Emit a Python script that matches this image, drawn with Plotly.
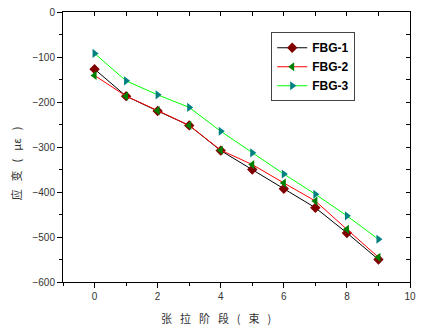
import plotly.graph_objects as go

stages = [0, 1, 2, 3, 4, 5, 6, 7, 8, 9]
fbg1 = [-127, -187, -220, -252, -308, -350, -393, -435, -491, -550]
fbg2 = [-141, -187, -219, -252, -307, -339, -380, -420, -483, -545]
fbg3 = [-92, -153, -184, -212, -265, -313, -360, -405, -453, -505]

series = [
    ("FBG-1", fbg1, "black", "#800000", "diamond", 8),
    ("FBG-2", fbg2, "#ff0000", "#008000", "triangle-left", 8),
    ("FBG-3", fbg3, "#00ff00", "#008080", "triangle-right", 8),
]

fig = go.Figure()
for name, vals, lc, mc, sym, ms in series:
    fig.add_trace(go.Scatter(
        x=stages, y=vals, name=name, mode="lines+markers",
        line=dict(color=lc, width=1),
        marker=dict(color=mc, symbol=sym, size=ms, line=dict(width=0)),
    ))

# carrier traces for the mirrored (top/right) tick axes
fig.add_trace(go.Scatter(
    x=stages, y=fbg1, xaxis="x2", yaxis="y", mode="lines",
    line=dict(color="rgba(0,0,0,0)"), showlegend=False, hoverinfo="skip",
))
fig.add_trace(go.Scatter(
    x=stages, y=fbg1, xaxis="x", yaxis="y2", mode="lines",
    line=dict(color="rgba(0,0,0,0)"), showlegend=False, hoverinfo="skip",
))

font_main = "Liberation Sans, Arial, sans-serif"
cjk = "Noto Sans CJK SC"

fig.update_layout(
    width=422, height=328,
    margin=dict(l=63, r=6, t=11, b=46),
    paper_bgcolor="white", plot_bgcolor="white",
    font=dict(family=font_main, size=10, color="#333333"),
    showlegend=True,
    legend=dict(
        x=0.60, y=0.925, xanchor="left", yanchor="top",
        bgcolor="white", bordercolor="#444444", borderwidth=1,
        font=dict(family=font_main, size=12, color="black", weight="bold"),
        itemwidth=30, tracegroupgap=0,
    ),
    xaxis=dict(
        range=[-1, 10], dtick=2, tick0=0, ticks="outside", ticklen=5,
        tickcolor="black", linecolor="black", linewidth=1, showline=True,
        mirror=True, showgrid=False, zeroline=False,
        minor=dict(dtick=1, ticks="outside", ticklen=3, tickcolor="black"),
        tickfont=dict(family=font_main, size=10, color="#333333"),
    ),
    yaxis=dict(
        range=[-600, 0], dtick=100, ticks="outside", ticklen=5,
        tickcolor="black", linecolor="black", linewidth=1, showline=True,
        mirror=True, showgrid=False, zeroline=False,
        minor=dict(dtick=50, ticks="outside", ticklen=3, tickcolor="black"),
        tickfont=dict(family=font_main, size=10, color="#333333"),
    ),
    xaxis2=dict(
        range=[-1, 10], dtick=1, tick0=0, overlaying="x", side="top",
        anchor="y", ticks="inside", ticklen=4, tickcolor="black",
        showticklabels=False, showline=False, showgrid=False, zeroline=False,
    ),
    yaxis2=dict(
        range=[-600, 0], dtick=50, overlaying="y", side="right",
        anchor="x", ticks="inside", ticklen=4, tickcolor="black",
        showticklabels=False, showline=False, showgrid=False, zeroline=False,
    ),
)

sp = "\u2002\u00a0"
fig.add_annotation(
    text=sp.join(["张", "拉", "阶", "段", "(", "束", ")"]),
    xref="paper", yref="paper",
    x=0.44, y=-0.095, xanchor="center", yanchor="top", showarrow=False,
    font=dict(family=cjk, size=11, color="#333333"),
)
fig.add_annotation(
    text=sp.join(["应", "变", "(", "με", ")"]),
    xref="paper", yref="paper",
    x=-0.135, y=0.44, xanchor="center", yanchor="middle", showarrow=False,
    textangle=-90, font=dict(family=cjk, size=11, color="#333333"),
)

fig.write_html("out.html", config={"displayModeBar": False},
               post_script="document.body.style.margin='0';")
